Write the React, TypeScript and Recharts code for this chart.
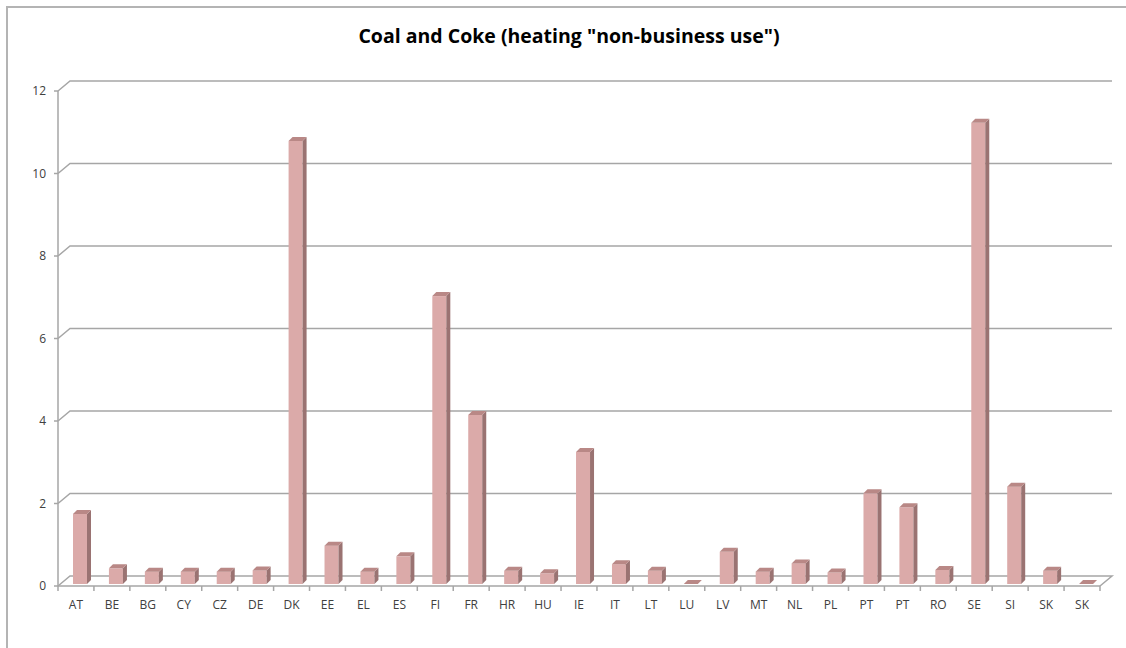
import { BarChart, Bar, XAxis, YAxis, CartesianGrid } from "recharts";

const countries = [
  "AT", "BE", "BG", "CY", "CZ", "DE", "DK", "EE", "EL", "ES",
  "FI", "FR", "HR", "HU", "IE", "IT", "LT", "LU", "LV", "MT",
  "NL", "PL", "PT", "PT", "RO", "SE", "SI", "SK", "SK",
];
const values = [
  1.7, 0.38, 0.3, 0.3, 0.3, 0.33, 10.74, 0.93, 0.3, 0.67,
  6.98, 4.1, 0.32, 0.26, 3.2, 0.48, 0.32, 0, 0.78, 0.3,
  0.5, 0.28, 2.2, 1.86, 0.34, 11.18, 2.36, 0.32, 0,
];
const yTicks = [0, 2, 4, 6, 8, 10, 12];

const data = countries.map((code, i) => ({ code, value: values[i] }));

// front plane of the plot, wall depth offset
const W = 1126;
const H = 648;
const LEFT = 58;
const RIGHT = 1100;
const TOP = 91;
const BOTTOM = 586;
const DEPTH_X = 12;
const DEPTH_Y = -10;
const STEP = (RIGHT - LEFT) / countries.length;
const AXIS = "#a6a6a6";
const TEXT = "#404040";
const FONT = "'Open Sans', 'Liberation Sans', sans-serif";

const GridLine = (props: any) => {
  const { x1, y1, x2, y2 } = props;
  const isFloor = Math.abs(y1 - BOTTOM) < 1;
  const pts = [
    [x1, y1],
    [x1 + DEPTH_X, y1 + DEPTH_Y],
    [x2 + DEPTH_X, y2 + DEPTH_Y],
  ];
  if (isFloor) pts.push([x2, y2]);
  return (
    <polyline
      key={props.key ?? `g-${y1}`}
      points={pts.map((p) => p.join(",")).join(" ")}
      fill="none"
      stroke={AXIS}
      strokeWidth={1.5}
    />
  );
};

const Bar3D = (props: any) => {
  const { x, y, width, height } = props;
  const bx = x + 4;
  const by = y - 2;
  const d = 4;
  const h = Math.max(height, 0);
  return (
    <g>
      {h > 0 && <rect x={bx} y={by} width={width} height={h} fill="#dbaaa9" />}
      {h > 0 && (
        <polygon
          points={`${bx + width},${by} ${bx + width + d},${by - d} ${bx + width + d},${by + h - d} ${bx + width},${by + h}`}
          fill="#9a7372"
        />
      )}
      <polygon
        points={`${bx},${by} ${bx + d},${by - d} ${bx + width + d},${by - d} ${bx + width},${by}`}
        fill="#b98886"
      />
    </g>
  );
};

const XTick = (props: any) => {
  const { x, y, payload, index } = props;
  const left = x - STEP / 2;
  return (
    <g>
      <line x1={left} y1={y} x2={left} y2={y + 5} stroke={AXIS} strokeWidth={1.5} />
      {index === countries.length - 1 && (
        <line x1={left + STEP} y1={y} x2={left + STEP} y2={y + 5} stroke={AXIS} strokeWidth={1.5} />
      )}
      <text x={x} y={y + 23} textAnchor="middle" fontSize={12} fill={TEXT} fontFamily={FONT}>
        {payload.value}
      </text>
    </g>
  );
};

export default function App() {
  return (
    <div
      style={{
        position: "absolute",
        left: 0,
        top: 0,
        width: W,
        height: H,
        background: "#fff",
        overflow: "hidden",
      }}
    >
      <div
        style={{
          position: "absolute",
          left: 6,
          top: 6,
          width: W,
          height: H,
          borderTop: "2px solid #b4b4b4",
          borderLeft: "2px solid #b4b4b4",
        }}
      />
      <div
        style={{
          position: "absolute",
          top: 22,
          left: 6,
          width: W,
          textAlign: "center",
          fontFamily: FONT,
          fontWeight: 700,
          fontSize: 19.5,
          color: "#000",
        }}
      >
        Coal and Coke (heating "non-business use")
      </div>
      <div style={{ position: "absolute", left: 0, top: 0 }}>
        <BarChart
          width={W}
          height={H}
          data={data}
          margin={{ top: TOP, right: W - RIGHT, bottom: H - BOTTOM - 40, left: LEFT - 40 }}
          barSize={14}
        >
          <CartesianGrid vertical={false} horizontal={GridLine} />
          <XAxis
            dataKey="code"
            height={40}
            axisLine={{ stroke: AXIS, strokeWidth: 1.5 }}
            tickLine={false}
            tickSize={0}
            tickMargin={0}
            interval={0}
            tick={<XTick />}
          />
          <YAxis
            width={40}
            domain={[0, 12]}
            ticks={yTicks}
            interval={0}
            axisLine={{ stroke: AXIS, strokeWidth: 1.5 }}
            tickLine={{ stroke: AXIS, strokeWidth: 1.5 }}
            tickSize={4}
            tickMargin={8}
            tick={{ fontSize: 12, fill: TEXT, fontFamily: FONT }}
          />
          <Bar dataKey="value" shape={<Bar3D />} isAnimationActive={false} />
        </BarChart>
      </div>
    </div>
  );
}
